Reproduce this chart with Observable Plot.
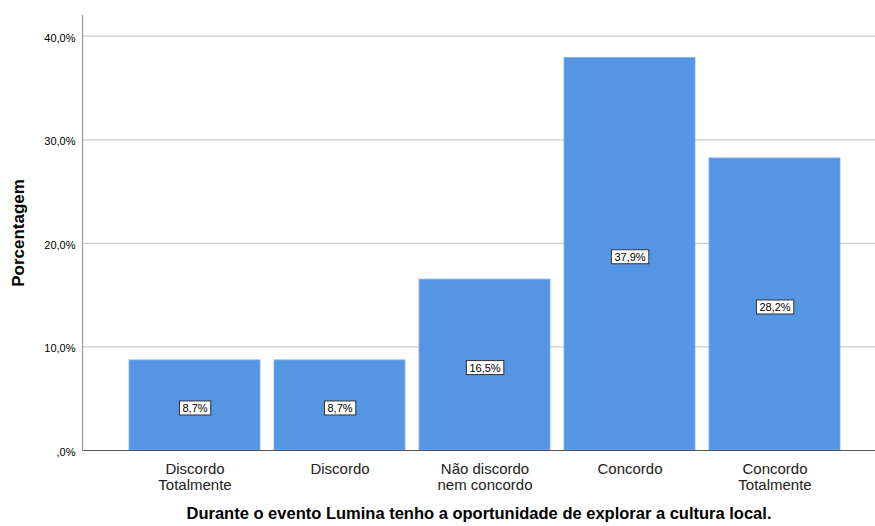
<!DOCTYPE html>
<html>
<head>
<meta charset="utf-8">
<script src="https://cdn.jsdelivr.net/npm/d3@7"></script>
<script src="https://cdn.jsdelivr.net/npm/@observablehq/plot@0.6"></script>
<style>
  html, body { margin: 0; padding: 0; background: #fff; }
</style>
</head>
<body>
<div id="chart"></div>
<script>
const categories = ["Discordo\nTotalmente", "Discordo", "Não discordo\nnem concordo", "Concordo", "Concordo\nTotalmente"];
const values = [8.7, 8.7, 16.5, 37.9, 28.2];
const yTicks = [0, 10, 20, 30, 40];
const yTitle = "Porcentagem";
const xTitle = "Durante o evento Lumina tenho a oportunidade de explorar a cultura local.";

const data = categories.map((c, i) => ({cat: c, value: values[i]}));
const pct = v => v === 0 ? ",0%" : v.toFixed(1).replace(".", ",") + "%";

const svg = Plot.plot({
  width: 875,
  height: 526,
  marginLeft: 82,
  marginRight: 0,
  marginTop: 15,
  marginBottom: 76,
  style: {fontFamily: "'Liberation Sans', Arial, sans-serif", background: "#fff", color: "#000"},
  x: {domain: categories, paddingInner: 0.1, paddingOuter: 0.28, align: 0.57, label: null},
  y: {domain: [0, 42], label: null},
  marks: [
    Plot.ruleY(yTicks.filter(d => d > 0), {stroke: "#cccccc", strokeWidth: 1.2}),
    Plot.barY(data, {x: "cat", y: "value", fill: "#5596e4", stroke: "#7fb0ee", strokeWidth: 0.8}),
    Plot.ruleY([0], {stroke: "#555", strokeWidth: 1.2}),
    Plot.frame({anchor: "left", stroke: "#999", strokeWidth: 1.2}),
    Plot.axisY({ticks: yTicks, tickSize: 0, tickPadding: 7, tickFormat: pct, fontSize: 11, dy: 2, label: null}),
    Plot.axisX({tickSize: 0, tickPadding: 12, fontSize: 15, lineHeight: 1.07, label: null, fill: "#222"}),
    Plot.text(data, {x: "cat", y: d => d.value / 2, text: d => pct(d.value), fontSize: 11, dy: 3, fill: "#000", ariaDescription: "bar-labels"}),
    Plot.text([yTitle], {frameAnchor: "left", rotate: -90, dx: -64, fontSize: 17, fontWeight: "bold", textAnchor: "middle", fill: "#000"}),
    Plot.text([xTitle], {frameAnchor: "bottom", dy: 68, fontSize: 16.5, fontWeight: "bold", textAnchor: "middle", fill: "#000"})
  ]
});

document.getElementById("chart").append(svg);

// white boxes behind the bar value labels
const g = svg.querySelector('g[aria-description="bar-labels"]');
if (g) {
  g.querySelectorAll("text").forEach(t => {
    const b = t.getBBox();
    const r = document.createElementNS("http://www.w3.org/2000/svg", "rect");
    r.setAttribute("x", b.x - 3);
    r.setAttribute("y", b.y - 1);
    r.setAttribute("width", b.width + 6);
    r.setAttribute("height", b.height + 2);
    r.setAttribute("fill", "#fff");
    r.setAttribute("stroke", "#333");
    r.setAttribute("stroke-width", 1);
    const tr = t.getAttribute("transform");
    if (tr) r.setAttribute("transform", tr);
    t.parentNode.insertBefore(r, t);
  });
}
</script>
</body>
</html>
